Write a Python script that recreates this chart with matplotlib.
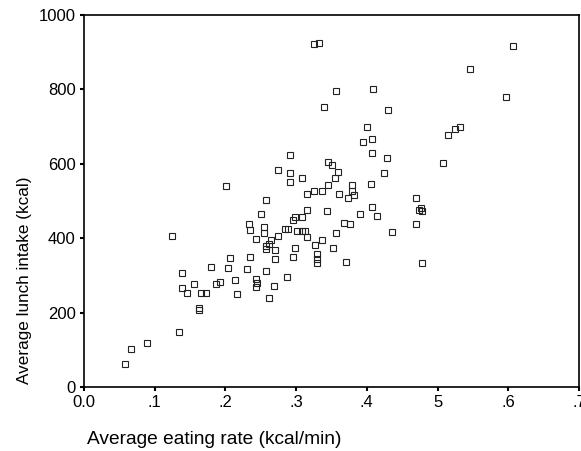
import matplotlib
matplotlib.use("Agg")
import matplotlib.pyplot as plt

plt.rcParams['font.family'] = ['Liberation Sans', 'DejaVu Sans']

eating_rate = [0.058, 0.067, 0.089, 0.135, 0.162, 0.163, 0.125, 0.139, 0.155, 0.138,
               0.145, 0.166, 0.172, 0.180, 0.186, 0.193, 0.203, 0.206, 0.201, 0.214,
               0.217, 0.230, 0.235, 0.234, 0.235, 0.243, 0.243, 0.244, 0.243, 0.250,
               0.257, 0.255, 0.254, 0.258, 0.262, 0.264, 0.258, 0.257, 0.261, 0.270,
               0.270, 0.268, 0.274, 0.274, 0.287, 0.284, 0.289, 0.291, 0.291, 0.292,
               0.295, 0.298, 0.298, 0.296, 0.308, 0.301, 0.308, 0.313, 0.308, 0.315,
               0.325, 0.336, 0.315, 0.315, 0.326, 0.329, 0.329, 0.329, 0.336, 0.325,
               0.333, 0.340, 0.345, 0.350, 0.359, 0.345, 0.343, 0.355, 0.356, 0.352,
               0.360, 0.367, 0.376, 0.373, 0.370, 0.357, 0.379, 0.379, 0.382, 0.391,
               0.394, 0.407, 0.407, 0.406, 0.407, 0.409, 0.414, 0.424, 0.428, 0.430,
               0.400, 0.435, 0.470, 0.477, 0.478, 0.474, 0.470, 0.478, 0.508, 0.515,
               0.525, 0.532, 0.546, 0.597, 0.606]
lunch_intake = [62, 102, 119, 148, 213, 208, 407, 307, 278, 267,
                253, 253, 253, 323, 278, 283, 321, 348, 539, 288,
                251, 318, 350, 437, 423, 399, 291, 280, 270, 466,
                504, 429, 415, 313, 240, 396, 380, 372, 385, 369,
                345, 272, 407, 582, 296, 426, 426, 625, 574, 550,
                350, 375, 458, 450, 456, 420, 420, 420, 563, 520,
                526, 526, 477, 402, 383, 358, 345, 334, 396, 922,
                925, 752, 606, 596, 577, 542, 472, 561, 415, 375,
                518, 442, 437, 507, 337, 795, 542, 528, 515, 466,
                658, 668, 628, 547, 485, 801, 461, 574, 615, 744,
                698, 418, 509, 480, 472, 477, 439, 332, 601, 677,
                693, 698, 854, 779, 916]

x_ticks = [0.0, 0.1, 0.2, 0.3, 0.4, 0.5, 0.6, 0.7]
x_tick_labels = ['0.0', '.1', '.2', '.3', '.4', '5', '.6', '.7']
y_ticks = [0, 200, 400, 600, 800, 1000]
y_tick_labels = ['0', '200', '400', '600', '800', '1000']

fig = plt.figure(figsize=(5.81, 4.51), dpi=100)
ax = fig.add_axes([84/581, 1 - 387/451, (579 - 84)/581, (387 - 15)/451])

ax.plot(eating_rate, lunch_intake, linestyle='none', marker='s', markersize=4.5,
        markerfacecolor='none', markeredgecolor='#222222', markeredgewidth=0.8)

ax.set_xlim(0, 0.7)
ax.set_ylim(0, 1000)
ax.set_xticks(x_ticks)
ax.set_xticklabels(x_tick_labels)
ax.set_yticks(y_ticks)
ax.set_yticklabels(y_tick_labels)
ax.tick_params(axis='both', direction='out', length=3, width=1.5, labelsize=12)
ax.tick_params(axis='x', pad=3)
ax.tick_params(axis='y', pad=3)
for s in ax.spines.values():
    s.set_linewidth(1.2)
    s.set_color('black')

fig.text(87/581, 1 - 440/451, 'Average eating rate (kcal/min)', ha='left', va='center', fontsize=13.8)
fig.text(25/581, 1 - 280/451, 'Average lunch intake (kcal)', ha='center', va='center',
         rotation=90, fontsize=12.3)

fig.savefig('out.png', dpi=100)
